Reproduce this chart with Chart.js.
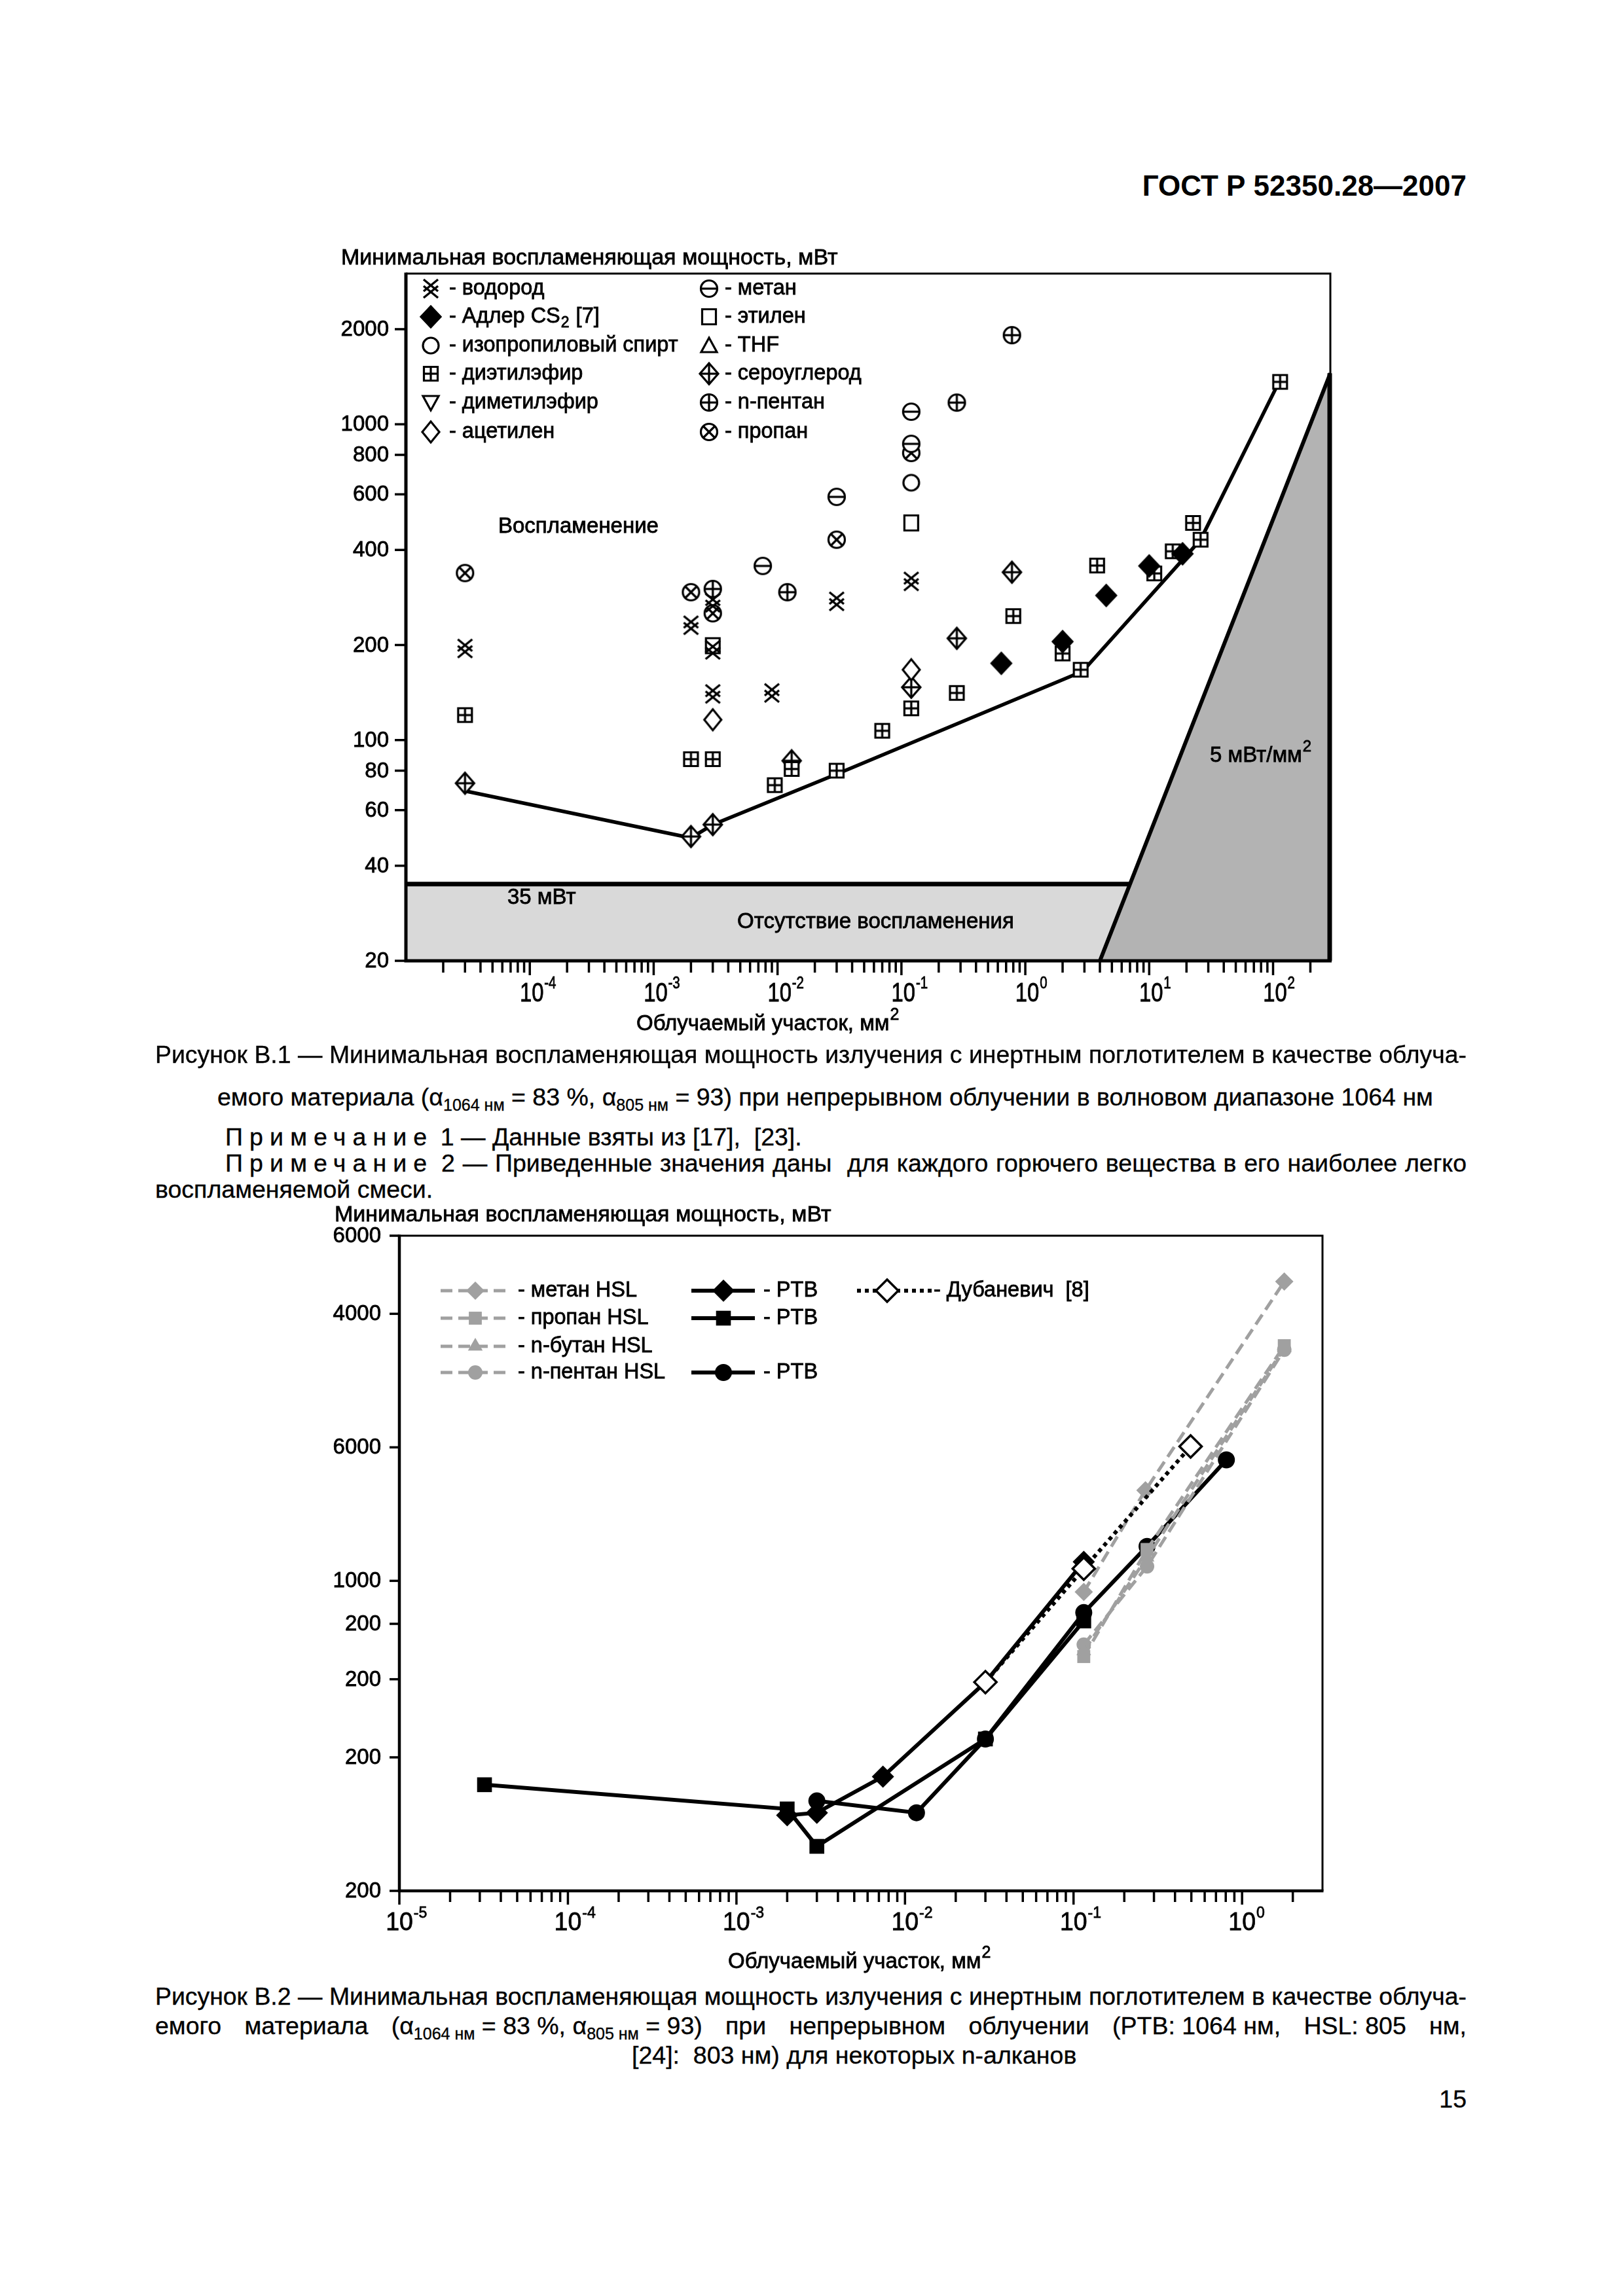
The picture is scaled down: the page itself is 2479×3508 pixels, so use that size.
<!DOCTYPE html>
<html lang="ru">
<head>
<meta charset="utf-8">
<title>ГОСТ Р 52350.28—2007</title>
<script src="https://cdn.jsdelivr.net/npm/chart.js@4.4.1/dist/chart.umd.min.js"></script>
<style>
  body { margin: 0; background: #fff; }
  #page { position: relative; width: 2479px; height: 3508px; background: #fff; overflow: hidden;
          font-family: "Liberation Sans", Arial, sans-serif; color: #000; }
  #page canvas { position: absolute; }
  .t { position: absolute; font-size: 37.5px; line-height: 38px; white-space: nowrap; -webkit-text-stroke: 0.35px #000; }
  .sp { letter-spacing: 0.27em; }
  .t sub { font-size: 25px; line-height: 0; vertical-align: -8px; }
</style>
</head>
<body>
<div id="page">
  <div class="t" style="right:239px;top:262px;font-size:44px;line-height:44px;font-weight:bold;-webkit-text-stroke:0">ГОСТ Р 52350.28—2007</div>

  <canvas id="fig1" width="1600" height="1260" style="left:480px;top:360px"></canvas>

  <div class="t j" data-w="2003" style="left:237px;top:1592px">Рисунок В.1 — Минимальная воспламеняющая мощность излучения с инертным поглотителем в качестве облуча-</div>
  <div class="t" style="left:332px;top:1657px">емого материала (α<sub>1064 нм</sub> = 83 %, α<sub>805 нм</sub> = 93) при непрерывном облучении в волновом диапазоне 1064 нм</div>
  <div class="t" style="left:344px;top:1718px"><span class="sp">Примечание</span> 1 — Данные взяты из [17],&nbsp; [23].</div>
  <div class="t j" data-w="1896" style="left:344px;top:1758px"><span class="sp">Примечание</span> 2 — Приведенные значения даны&nbsp; для каждого горючего вещества в его наиболее легко</div>
  <div class="t" style="left:237px;top:1798px">воспламеняемой смеси.</div>

  <canvas id="fig2" width="1600" height="1200" style="left:480px;top:1820px"></canvas>

  <div class="t j" data-w="2003" style="left:237px;top:3031px">Рисунок В.2 — Минимальная воспламеняющая мощность излучения с инертным поглотителем в качестве облуча-</div>
  <div class="t j" data-w="2003" style="left:237px;top:3076px">емого материала <span class="ns" style="word-spacing:0">(α<sub>1064 нм</sub> = 83 %, α<sub>805 нм</sub> = 93)</span> при непрерывном облучении <span class="ns" style="word-spacing:0">(PTB: 1064 нм,</span> <span class="ns" style="word-spacing:0">HSL: 805</span> нм,</div>
  <div class="t" style="left:965px;top:3121px">[24]:&nbsp; 803 нм) для некоторых n-алканов</div>

  <div class="t" style="right:239px;top:3188px">15</div>
</div>

<script>
// ---------- Рисунок В.1 : облучаемый участок, мм2 / мощность, мВт ----------
const h2Area = [3e-5, 2e-3, 3e-3, 3e-3, 3e-3, 9e-3, 3e-2, 0.12];
const h2Power = [195, 231, 272, 193, 140, 141, 275, 318];
const adlerArea = [0.64, 2, 4.5, 10, 18.6];
const adlerPower = [175, 205, 287, 356, 389];
const ipaArea = [0.12];
const ipaPower = [653];
const deeArea = [3e-5, 2e-3, 3e-3, 9.5e-3, 1.3e-2, 3e-2, 7e-2, 0.12, 0.28, 0.8, 2, 2.8, 3.8, 11, 15.5, 22.6, 26, 114];
const deePower = [120, 87, 87, 72, 81, 80, 107, 126, 141, 247, 188, 167, 357, 337, 396, 487, 431, 1362];
const dmeArea = [];
const dmePower = [];
const acetArea = [3e-3, 0.12];
const acetPower = [116, 167];
const methArea = [7.6e-3, 3e-2, 0.12, 0.12];
const methPower = [356, 589, 1096, 867];
const ethArea = [3e-3, 0.12];
const ethPower = [199, 487];
const thfArea = [];
const thfPower = [];
const cs2Area = [3e-5, 2e-3, 3e-3, 1.3e-2, 0.12, 0.28, 0.78];
const cs2Power = [73, 49.5, 54, 86, 147, 210, 340];
const pentArea = [3e-3, 1.2e-2, 0.28, 0.78];
const pentPower = [301, 294, 1171, 1915];
const propArea = [3e-5, 2e-3, 3e-3, 3e-2, 0.12];
const propPower = [338, 294, 252, 431, 811];

const edgeArea = [3e-5, 2e-3, 3e-3, 3e-2, 2.9, 26, 110];
const edgePower = [69, 49, 54, 78, 165, 431, 1345];
const noIgnArea = [1e-5, 7];
const noIgnPower = [35, 35];
const fluxArea = [4, 290];
const fluxPower = [20, 1450];

const names1 = ['водород', 'Адлер CS2 [7]', 'изопропиловый спирт', 'диэтилэфир', 'диметилэфир', 'ацетилен',
                'метан', 'этилен', 'THF', 'сероуглерод', 'n-пентан', 'пропан'];
const symbols1 = ['h2', 'fdiamond', 'circle', 'sqplus', 'tridown', 'diamond',
                  'cminus', 'square', 'tri', 'dplus', 'cplus', 'cx'];
const areas1 = [h2Area, adlerArea, ipaArea, deeArea, dmeArea, acetArea, methArea, ethArea, thfArea, cs2Area, pentArea, propArea];
const powers1 = [h2Power, adlerPower, ipaPower, deePower, dmePower, acetPower, methPower, ethPower, thfPower, cs2Power, pentPower, propPower];

const yTicks1 = [20, 40, 60, 80, 100, 200, 400, 600, 800, 1000, 2000];
const xDecades1 = [-5, -4, -3, -2, -1, 0, 1, 2];
const xLabelDecades1 = [-4, -3, -2, -1, 0, 1, 2];
const minorSteps = [1, 2, 3, 4, 5, 6, 7, 8, 9];

// ---------- Рисунок В.2 ----------
const methHslArea = [0.115, 0.267, 1.78];
const methHslPower = [944, 1600, 4730];
const propHslArea = [0.115, 0.273, 1.78];
const propHslPower = [675, 1177, 3390];
const butHslArea = [0.115, 0.273, 1.78];
const butHslPower = [695, 1130, 3350];
const pentHslArea = [0.115, 0.273, 1.78];
const pentHslPower = [718, 1078, 3320];
const ptbDiamArea = [2e-3, 3e-3, 7.4e-3, 3e-2, 0.115];
const ptbDiamPower = [296, 300, 362, 591, 1104];
const ptbSqArea = [3.2e-5, 2e-3, 3e-3, 3e-2, 0.115];
const ptbSqPower = [347, 306, 252, 440, 812];
const ptbCircArea = [3e-3, 1.17e-2, 3e-2, 0.115, 0.273, 0.807];
const ptbCircPower = [319, 300, 440, 848, 1196, 1874];
const dubArea = [3e-2, 0.115, 0.495];
const dubPower = [591, 1065, 2009];

const yTicks2 = [200, 400, 600, 800, 1000, 2000, 4000, 6000];
const yTickText2 = ['200', '200', '200', '200', '1000', '6000', '4000', '6000'];
const xDecades2 = [-5, -4, -3, -2, -1, 0];
const xLabelDecades2 = [-5, -4, -3, -2, -1, 0];

const F = '"Liberation Sans", Arial, sans-serif';
const GREY = '#a0a0a0';

// выравнивание строк подписи по ширине
document.querySelectorAll('.j').forEach(el => {
  const target = parseFloat(el.dataset.w);
  let w = el.getBoundingClientRect().width;
  if (w > target) {
    const fs = parseFloat(getComputedStyle(el).fontSize);
    el.style.fontSize = (fs * target / w) + 'px';
    w = el.getBoundingClientRect().width;
  }
  let gaps = (el.textContent.match(/[ \u00a0]/g) || []).length;
  el.querySelectorAll('.ns').forEach(s => { gaps -= (s.textContent.match(/[ \u00a0]/g) || []).length; });
  if (gaps > 0 && w < target) el.style.wordSpacing = ((target - w) / gaps) + 'px';
  el.querySelectorAll('.ns').forEach(s => { s.style.wordSpacing = '0px'; });
});

function pts(xs, ys) { return xs.map((v, i) => ({ x: v, y: ys[i] })); }
function expText(e) { return e < 0 ? '-' + Math.abs(e) : String(e); }

function text(ctx, s, x, y) {
  ctx.fillText(s, x, y);
  ctx.strokeText(s, x, y);
}

function makeSym(kind) {
  const s = 38, c = document.createElement('canvas');
  c.width = s; c.height = s;
  const g = c.getContext('2d');
  g.translate(s / 2, s / 2);
  g.lineWidth = 3.2; g.strokeStyle = '#000'; g.fillStyle = '#fff';
  const circ = r => { g.beginPath(); g.arc(0, 0, r, 0, Math.PI * 2); g.fill(); g.stroke(); };
  const line = (a, b, c2, d) => { g.beginPath(); g.moveTo(a, b); g.lineTo(c2, d); g.stroke(); };
  const poly = (p, fill) => {
    g.beginPath(); p.forEach(([a, b], i) => i ? g.lineTo(a, b) : g.moveTo(a, b)); g.closePath();
    if (fill) g.fillStyle = fill;
    g.fill(); g.stroke();
  };
  switch (kind) {
    case 'h2':
      g.lineWidth = 3.4;
      line(-11, -14, 11, 4); line(11, -14, -11, 4); line(-11, -4, 11, 14); line(11, -4, -11, 14);
      break;
    case 'fdiamond': poly([[0, -16], [15, 0], [0, 16], [-15, 0]], '#000'); break;
    case 'circle': circ(12); break;
    case 'sqplus':
      g.beginPath(); g.rect(-10.5, -10.5, 21, 21); g.fill(); g.stroke();
      line(0, -10.5, 0, 10.5); line(-10.5, 0, 10.5, 0);
      break;
    case 'tridown': poly([[-12, -10], [12, -10], [0, 12]]); break;
    case 'diamond': poly([[0, -16], [13, 0], [0, 16], [-13, 0]]); break;
    case 'cminus': circ(12.5); line(-12.5, 0, 12.5, 0); break;
    case 'square': g.beginPath(); g.rect(-10.5, -11.5, 21, 23); g.fill(); g.stroke(); break;
    case 'tri': poly([[0, -12], [12, 10], [-12, 10]]); break;
    case 'dplus': poly([[0, -16], [14, 0], [0, 16], [-14, 0]]); line(0, -16, 0, 16); line(-14, 0, 14, 0); break;
    case 'cplus': circ(12.5); line(0, -12.5, 0, 12.5); line(-12.5, 0, 12.5, 0); break;
    case 'cx': circ(12.5); line(-9, -9, 9, 9); line(9, -9, -9, 9); break;
  }
  return c;
}
const symCanvas = {};
symbols1.forEach(k => { symCanvas[k] = makeSym(k); });

function drawPow(ctx, px, base, ex, big, small, sx) {
  ctx.save();
  ctx.translate(px, base);
  ctx.scale(sx, 1);
  ctx.font = `${big}px ${F}`;
  ctx.textAlign = 'center'; ctx.textBaseline = 'alphabetic';
  const w = ctx.measureText('10').width;
  text(ctx, '10', 0, 0);
  ctx.font = `${small}px ${F}`; ctx.textAlign = 'left';
  text(ctx, ex, w / 2 + 1, -big * 0.5);
  ctx.restore();
}

function drawSup(ctx, s, sup, x, base, size, supSize, rise) {
  ctx.font = `${size}px ${F}`;
  ctx.textAlign = 'left'; ctx.textBaseline = 'alphabetic';
  text(ctx, s, x, base);
  const w = ctx.measureText(s).width;
  ctx.font = `${supSize}px ${F}`;
  text(ctx, sup, x + w + 1, base - rise);
}

function xTicks(ctx, x, a, decades, keepMin, minorLen, majorLen) {
  decades.forEach(e => minorSteps.forEach(m => {
    const v = m * Math.pow(10, e);
    if (v > x.max * 0.999) return;
    if (keepMin ? v < x.min * 0.999 : v <= x.min * 1.001) return;
    const px = x.getPixelForValue(v);
    ctx.beginPath(); ctx.moveTo(px, a.bottom); ctx.lineTo(px, a.bottom + (m === 1 ? majorLen : minorLen)); ctx.stroke();
  }));
}

// ---------- chart 1 ----------
const OX1 = 480, OY1 = 360;
const legendRows1 = [441, 484, 528, 571, 615, 660];

const page1 = {
  id: 'page1',
  afterDatasetsDraw(chart) {
    const { ctx, chartArea: a, scales: { x, y } } = chart;
    ctx.save();
    ctx.strokeStyle = '#000'; ctx.fillStyle = '#000';

    ctx.lineWidth = 3;
    ctx.beginPath(); ctx.moveTo(a.left, a.top); ctx.lineTo(a.right, a.top); ctx.lineTo(a.right, a.bottom); ctx.stroke();
    ctx.lineWidth = 7;
    ctx.beginPath(); ctx.moveTo(a.right - 1, y.getPixelForValue(fluxPower[1])); ctx.lineTo(a.right - 1, a.bottom); ctx.stroke();
    ctx.lineWidth = 5;
    ctx.beginPath(); ctx.moveTo(a.left, a.top - 1.5); ctx.lineTo(a.left, a.bottom); ctx.lineTo(a.right + 2, a.bottom); ctx.stroke();

    ctx.lineWidth = 3.5;
    yTicks1.forEach(v => {
      const py = y.getPixelForValue(v);
      ctx.beginPath(); ctx.moveTo(a.left - 17, py); ctx.lineTo(a.left, py); ctx.stroke();
    });
    xTicks(ctx, x, a, xDecades1, false, 18, 22);

    ctx.lineWidth = 0.8;
    ctx.font = `33px ${F}`; ctx.textAlign = 'right'; ctx.textBaseline = 'middle';
    yTicks1.forEach(v => text(ctx, String(v), a.left - 26, y.getPixelForValue(v) + 1));
    xLabelDecades1.forEach(e => drawPow(ctx, x.getPixelForValue(Math.pow(10, e)) + 3, a.bottom + 62, expText(e), 40, 25, 0.82));

    ctx.font = `34px ${F}`; ctx.textAlign = 'left'; ctx.textBaseline = 'alphabetic';
    text(ctx, 'Минимальная воспламеняющая мощность, мВт', 521 - OX1, 404 - OY1);
    drawSup(ctx, 'Облучаемый участок, мм', '2', 972 - OX1, 1574 - OY1, 33, 25, 16);

    ctx.font = `33px ${F}`; ctx.textBaseline = 'middle';
    text(ctx, 'Воспламенение', 761 - OX1, 805 - OY1);
    text(ctx, '35 мВт', 775 - OX1, 1372 - OY1);
    text(ctx, 'Отсутствие воспламенения', 1126 - OX1, 1409 - OY1);
    ctx.textBaseline = 'alphabetic';
    drawSup(ctx, '5 мВт/мм', '2', 1848 - OX1, 1164 - OY1, 33, 24, 16);

    names1.forEach((name, i) => {
      const col = i < 6 ? 0 : 1;
      const row = i % 6;
      const sx = (col ? 1083 : 658) - OX1;
      const tx = (col ? 1107 : 686) - OX1;
      const ty = legendRows1[row] - OY1;
      const img = symCanvas[symbols1[i]];
      ctx.drawImage(img, sx - img.width / 2, ty - img.height / 2);
      ctx.font = `32.5px ${F}`; ctx.textAlign = 'left'; ctx.textBaseline = 'middle';
      if (name.indexOf('CS2') >= 0) {
        const head = '- Адлер CS';
        text(ctx, head, tx, ty);
        let w = ctx.measureText(head).width;
        ctx.font = `23px ${F}`;
        text(ctx, '2', tx + w + 1, ty + 10);
        w += ctx.measureText('2').width + 2;
        ctx.font = `32.5px ${F}`;
        text(ctx, ' [7]', tx + w, ty);
      } else {
        text(ctx, '- ' + name, tx, ty);
      }
    });
    ctx.restore();
  }
};

const datasets1 = names1.map((name, i) => ({
  label: name,
  data: pts(areas1[i], powers1[i]),
  showLine: false,
  pointStyle: symCanvas[symbols1[i]],
  pointRadius: 12,
  order: 1
}));
datasets1.push({
  label: 'граница', data: pts(edgeArea, edgePower), showLine: true, fill: false,
  borderColor: '#000', borderWidth: 5.5, pointRadius: 0, order: 5
});
datasets1.push({
  label: '5 мВт/мм2', data: pts(fluxArea, fluxPower), showLine: true, fill: 'start',
  backgroundColor: '#b3b3b3', borderColor: '#000', borderWidth: 6, pointRadius: 0, order: 9
});
datasets1.push({
  label: '35 мВт', data: pts(noIgnArea, noIgnPower), showLine: true, fill: 'start',
  backgroundColor: '#d9d9d9', borderColor: '#000', borderWidth: 7, pointRadius: 0, order: 10
});

new Chart(document.getElementById('fig1'), {
  type: 'scatter',
  data: { datasets: datasets1 },
  options: {
    responsive: false, animation: false, events: [],
    layout: { padding: { left: 140, top: 58, right: 48, bottom: 152 } },
    scales: {
      x: { type: 'logarithmic', min: 1e-5, max: 290, display: false },
      y: { type: 'logarithmic', min: 20, max: 3000, display: false }
    },
    plugins: { legend: { display: false }, tooltip: { enabled: false } }
  },
  plugins: [page1]
});

// ---------- chart 2 ----------
const OX2 = 480, OY2 = 1820;
const series2 = [
  { name: 'метан HSL', xs: methHslArea, ys: methHslPower, color: GREY, dash: [18, 9], width: 5, style: 'rectRot', r: 14, fill: GREY, bw: 0, order: 2 },
  { name: 'пропан HSL', xs: propHslArea, ys: propHslPower, color: GREY, dash: [18, 9], width: 5, style: 'rect', r: 14, fill: GREY, bw: 0, order: 2 },
  { name: 'n-бутан HSL', xs: butHslArea, ys: butHslPower, color: GREY, dash: [18, 9], width: 5, style: 'triangle', r: 13, fill: GREY, bw: 0, order: 2 },
  { name: 'n-пентан HSL', xs: pentHslArea, ys: pentHslPower, color: GREY, dash: [18, 9], width: 5, style: 'circle', r: 11, fill: GREY, bw: 0, order: 2 },
  { name: 'PTB', xs: ptbDiamArea, ys: ptbDiamPower, color: '#000', dash: [], width: 6, style: 'rectRot', r: 17, fill: '#000', bw: 0, order: 3 },
  { name: 'PTB', xs: ptbSqArea, ys: ptbSqPower, color: '#000', dash: [], width: 6, style: 'rect', r: 16, fill: '#000', bw: 0, order: 3 },
  { name: 'PTB', xs: ptbCircArea, ys: ptbCircPower, color: '#000', dash: [], width: 6, style: 'circle', r: 13, fill: '#000', bw: 0, order: 4 },
  { name: 'Дубаневич  [8]', xs: dubArea, ys: dubPower, color: '#000', dash: [6, 6], width: 6, style: 'rectRot', r: 17, fill: '#fff', bw: 3.5, order: 1 }
];
// legend slots: [x of line start, line end, marker, text, row y]
const legendSlots2 = [
  [673, 778, 726, 791, 1972], [673, 778, 726, 791, 2014], [673, 778, 726, 791, 2057], [673, 778, 726, 791, 2097],
  [1056, 1153, 1105, 1166, 1972], [1056, 1153, 1105, 1166, 2014], [1056, 1153, 1105, 1166, 2097],
  [1309, 1423, 1355, 1426, 1972]
];

function mark(ctx, style, r, x, y, fill, bw) {
  ctx.save();
  ctx.setLineDash([]);
  ctx.beginPath();
  if (style === 'circle') ctx.arc(x, y, r, 0, Math.PI * 2);
  else if (style === 'rect') { const h = r * Math.SQRT1_2; ctx.rect(x - h, y - h, 2 * h, 2 * h); }
  else if (style === 'rectRot') { ctx.moveTo(x - r, y); ctx.lineTo(x, y - r); ctx.lineTo(x + r, y); ctx.lineTo(x, y + r); ctx.closePath(); }
  else if (style === 'triangle') { ctx.moveTo(x, y - r); ctx.lineTo(x + r * 0.866, y + r * 0.5); ctx.lineTo(x - r * 0.866, y + r * 0.5); ctx.closePath(); }
  ctx.fillStyle = fill; ctx.fill();
  if (bw) { ctx.lineWidth = bw; ctx.strokeStyle = '#000'; ctx.stroke(); }
  ctx.restore();
}

const page2 = {
  id: 'page2',
  afterDatasetsDraw(chart) {
    const { ctx, chartArea: a, scales: { x, y } } = chart;
    ctx.save();
    ctx.strokeStyle = '#000'; ctx.fillStyle = '#000';
    ctx.lineWidth = 3;
    ctx.beginPath(); ctx.moveTo(a.left, a.top); ctx.lineTo(a.right, a.top); ctx.lineTo(a.right, a.bottom); ctx.stroke();
    ctx.lineWidth = 4.5;
    ctx.beginPath(); ctx.moveTo(a.left, a.top - 1.5); ctx.lineTo(a.left, a.bottom); ctx.lineTo(a.right + 1.5, a.bottom); ctx.stroke();

    ctx.lineWidth = 3.5;
    yTicks2.forEach(v => {
      const py = y.getPixelForValue(v);
      ctx.beginPath(); ctx.moveTo(a.left - 15, py); ctx.lineTo(a.left, py); ctx.stroke();
    });
    xTicks(ctx, x, a, xDecades2, true, 17, 21);

    ctx.lineWidth = 0.8;
    ctx.font = `33px ${F}`; ctx.textAlign = 'right'; ctx.textBaseline = 'middle';
    yTicks2.forEach((v, i) => text(ctx, yTickText2[i], a.left - 28, y.getPixelForValue(v) + 1));
    xLabelDecades2.forEach(e => drawPow(ctx, x.getPixelForValue(Math.pow(10, e)), a.bottom + 60, expText(e), 39, 24, 0.96));

    ctx.font = `34px ${F}`; ctx.textAlign = 'left'; ctx.textBaseline = 'alphabetic';
    text(ctx, 'Минимальная воспламеняющая мощность, мВт', 511 - OX2, 1866 - OY2);
    drawSup(ctx, 'Облучаемый участок, мм', '2', 1112 - OX2, 3007 - OY2, 33, 25, 16);

    series2.forEach((s, i) => {
      const [l0, l1, mx, tx, ry] = legendSlots2[i];
      const yy = ry - OY2;
      ctx.save();
      ctx.strokeStyle = s.color; ctx.lineWidth = s.width; ctx.setLineDash(s.dash);
      ctx.beginPath(); ctx.moveTo(l0 - OX2, yy); ctx.lineTo(l1 - OX2, yy); ctx.stroke();
      ctx.restore();
      mark(ctx, s.style, s.r, mx - OX2, yy, s.fill, s.bw);
      ctx.fillStyle = '#000'; ctx.strokeStyle = '#000'; ctx.lineWidth = 0.8;
      ctx.font = `32.5px ${F}`; ctx.textAlign = 'left'; ctx.textBaseline = 'middle';
      text(ctx, '- ' + s.name, tx - OX2, yy);
    });
    ctx.restore();
  }
};

new Chart(document.getElementById('fig2'), {
  type: 'scatter',
  data: {
    datasets: series2.map(s => ({
      label: s.name,
      data: pts(s.xs, s.ys),
      showLine: true, fill: false,
      borderColor: s.color, borderWidth: s.width, borderDash: s.dash,
      pointStyle: s.style, pointRadius: s.r,
      pointBackgroundColor: s.fill, pointBorderColor: '#000', pointBorderWidth: s.bw,
      order: s.order
    }))
  },
  options: {
    responsive: false, animation: false, events: [],
    layout: { padding: { left: 130, top: 68, right: 60, bottom: 131 } },
    scales: {
      x: { type: 'logarithmic', min: 1e-5, max: 3, display: false },
      y: { type: 'logarithmic', min: 200, max: 6000, display: false }
    },
    plugins: { legend: { display: false }, tooltip: { enabled: false } }
  },
  plugins: [page2]
});
</script>
</body>
</html>
